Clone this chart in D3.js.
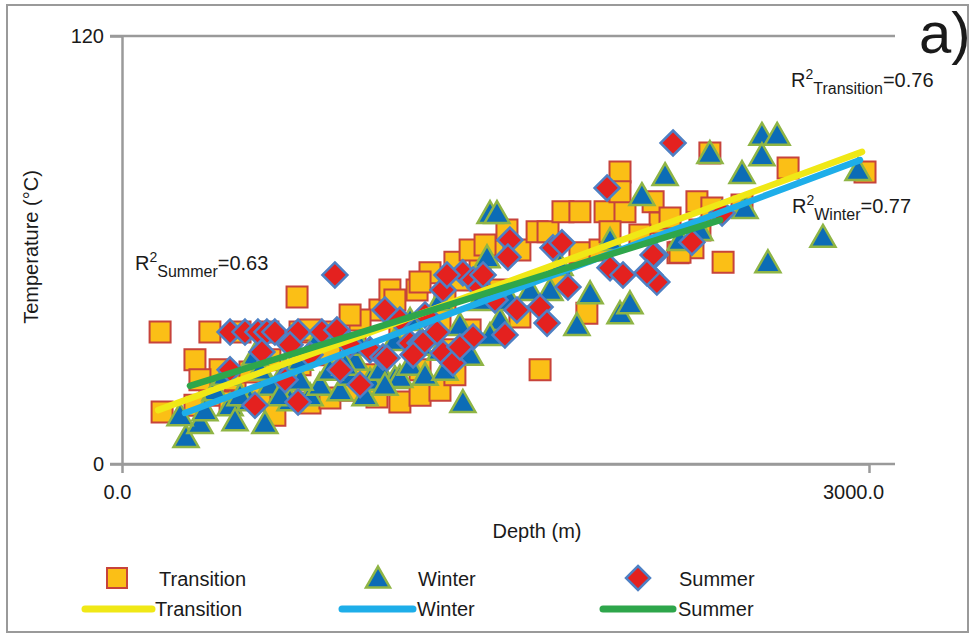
<!DOCTYPE html>
<html>
<head>
<meta charset="utf-8">
<script src="https://cdn.jsdelivr.net/npm/d3@7"></script>
<style>
  body { margin: 0; background: #fff; }
  text { font-family: "Liberation Sans", Arial, sans-serif; fill: #1a1a1a; }
</style>
</head>
<body>
<svg id="chart" width="976" height="639"></svg>
<script>
// Depth (m) / temperature (°C) observations by season
const transitionDepth = [153,161,353,474,586,715,835,703,394,454,514,353,434,554,655,755,835,916,1024,1116,594,715,835,936,1036,1116,1185,1237,1297,1357,1438,1490,1546,1598,1667,1711,1771,1839,1940,2020,2000,2000,2133,2309,2369,2361,2675,2984,2414,2233,2293,2161,2490,2241,1839,1679,1867,1598,1920,2080,1759,1398,1317,1197,1277,956,1076,755,293,313,1518,2201,2321,1960,976,1197,1337,1398,1458,1096,916,1197,1277,1337,614,293];
const transitionTemp  = [37.0,14.6,37.0,37.0,37.0,37.0,37.0,46.8,26.4,23.6,25.8,19.3,17.4,18.5,19.3,17.1,18.5,20.7,18.8,17.4,29.2,27.8,30.6,33.4,43.2,37.6,48.8,53.6,46.0,51.6,55.8,60.0,65.6,60.0,65.1,65.1,70.7,70.7,70.7,70.7,81.9,76.3,73.5,73.5,71.8,87.2,83.0,81.9,56.6,59.2,60.6,67.6,72.6,59.4,59.2,26.4,42.3,41.2,60.0,64.2,51.6,37.6,32.0,26.4,40.4,40.4,48.8,37.6,29.2,23.6,48.8,69.0,65.6,65.1,25.0,51.0,56.6,60.0,61.4,46.0,41.8,19.3,20.7,25.0,13.7,16.5];

const winterDepth = [257,313,574,434,514,675,755,795,876,916,996,1036,1096,1116,1157,594,373,474,655,715,835,936,1197,1277,1369,1466,1478,1506,1438,1518,1357,1827,1880,2000,2040,2088,2181,2361,2490,2502,2570,2631,2570,2815,2594,2956,1960,1759,1639,2321,333,233,534,795,1096,1277,1157,2241,414,554,635,896,976,1056,1217,1297,1398,1478,1558,715,454,956,1719];
const winterTemp  = [7.6,11.5,11.5,16.5,17.9,17.9,19.3,22.2,20.7,25.0,23.6,26.4,24.1,24.4,27.8,22.2,20.7,19.3,26.4,23.6,26.4,29.2,33.4,32.0,17.4,58.0,70.4,70.4,46.0,40.4,39.0,39.0,47.9,42.3,45.1,75.4,81.0,87.2,81.6,71.8,92.3,92.3,86.6,63.7,56.6,82.4,62.8,55.8,48.8,65.6,15.1,13.7,30.6,36.2,34.8,46.0,40.4,62.8,25.0,26.4,19.3,27.8,19.3,22.2,25.0,26.4,30.6,36.2,46.0,29.2,12.3,33.4,48.8];

const summerDepth = [434,494,546,582,614,707,803,863,1056,855,534,707,562,675,434,755,916,996,1157,1197,1048,1289,1329,1410,1357,1289,1369,1410,1438,1305,1450,1558,1550,1731,1767,1791,1948,1960,2012,2120,2148,2141,1586,1679,1707,1538,1265,1209,1169,1064,2213,2133,2289,2410,2108,876,956,655,1116,1217,1498];
const summerTemp  = [37.0,37.0,37.0,37.0,37.0,37.0,37.0,37.6,43.2,53.0,16.5,17.4,31.4,33.4,26.4,30.6,33.4,32.0,33.9,33.9,30.0,31.1,28.3,35.6,32.8,48.8,53.6,51.6,49.4,53.0,53.0,62.8,58.0,60.6,62.0,49.6,77.4,55.0,53.0,53.0,51.0,58.6,43.2,44.0,39.5,36.2,37.0,33.9,30.6,29.7,90.0,58.6,62.2,70.4,53.6,26.4,22.2,23.6,40.4,41.8,46.0];

// Linear fits: [depth, temperature] at each end of the fitted range
const transitionFit = [[145, 15.1], [2972, 87.5]];
const winterFit     = [[253, 14.3], [2964, 85.2]];
const summerFit     = [[273, 21.9], [2402, 68.4]];

const xTicks = [0, 3000];
const yTicks = [0, 120];
const seriesNames = ["Transition", "Winter", "Summer"];
const r2Values = ["0.76", "0.77", "0.63"];

const svg = d3.select("#chart");
const x = d3.scaleLinear().domain([0, 3000]).range([122, 869]);
const y = d3.scaleLinear().domain([0, 120]).range([464, 36]);

const axisGrey = "#9a9a9a";

// outer frame
svg.append("rect").attr("x", 7).attr("y", 5).attr("width", 961).attr("height", 627)
  .attr("fill", "none").attr("stroke", axisGrey).attr("stroke-width", 2);

// top rule and extended baseline
svg.append("line").attr("x1", 110).attr("x2", 895).attr("y1", y(120)).attr("y2", y(120))
  .attr("stroke", axisGrey).attr("stroke-width", 2.5);
svg.append("line").attr("x1", 110).attr("x2", 895).attr("y1", y(0)).attr("y2", y(0))
  .attr("stroke", axisGrey).attr("stroke-width", 2.5);

// y axis
const yAxis = svg.append("g").attr("transform", `translate(${x(0)},0)`)
  .call(d3.axisLeft(y).tickValues(yTicks).tickSize(12).tickSizeOuter(0).tickPadding(6).tickFormat(d3.format("d")));
yAxis.select(".domain").attr("stroke", axisGrey).attr("stroke-width", 2.5);
yAxis.selectAll(".tick line").attr("stroke", axisGrey).attr("stroke-width", 2.5);
yAxis.selectAll(".tick text").attr("font-size", 20).attr("fill", "#1a1a1a")
  .attr("font-family", "Liberation Sans, Arial, sans-serif");

// x axis
const xAxis = svg.append("g").attr("transform", `translate(0,${y(0)})`)
  .call(d3.axisBottom(x).tickValues(xTicks).tickSize(9).tickSizeOuter(0).tickPadding(12).tickFormat(d3.format(".1f")));
xAxis.select(".domain").attr("stroke", axisGrey).attr("stroke-width", 2.5);
xAxis.selectAll(".tick line").attr("stroke", axisGrey).attr("stroke-width", 2.5);
xAxis.selectAll(".tick text").attr("font-size", 20).attr("fill", "#1a1a1a")
  .attr("font-family", "Liberation Sans, Arial, sans-serif")
  .attr("dx", d => d === 0 ? -5 : -16);

// axis titles
svg.append("text").attr("x", 537).attr("y", 538).attr("text-anchor", "middle")
  .attr("font-size", 20).text("Depth (m)");
svg.append("text").attr("transform", "translate(38,247) rotate(-90)").attr("text-anchor", "middle")
  .attr("font-size", 20).text("Temperature (°C)");

// panel letter
svg.append("text").attr("x", 919).attr("y", 53).attr("font-size", 58).text("a)");

// marker shapes
const squareShape = { draw(ctx, s) { const h = s / 2; ctx.rect(-h, -h, s, s); } };
const triangleShape = { draw(ctx, s) { const h = s / 2; ctx.moveTo(0, -h * 0.95); ctx.lineTo(h, h * 0.8); ctx.lineTo(-h, h * 0.8); ctx.closePath(); } };
const diamondShape = { draw(ctx, s) { const h = s / 2; ctx.moveTo(0, -h); ctx.lineTo(h, 0); ctx.lineTo(0, h); ctx.lineTo(-h, 0); ctx.closePath(); } };

const series = [
  { name: "Transition", depth: transitionDepth, temp: transitionTemp, shape: squareShape, size: 21, fill: "#fbbf16", stroke: "#c7433b", sw: 2, line: "#f0e816", fit: transitionFit },
  { name: "Winter", depth: winterDepth, temp: winterTemp, shape: triangleShape, size: 25, fill: "#0c6cb6", stroke: "#8fb545", sw: 2.5, line: "#1eaee9", fit: winterFit },
  { name: "Summer", depth: summerDepth, temp: summerTemp, shape: diamondShape, size: 25, fill: "#e4211f", stroke: "#4e80c4", sw: 2.5, line: "#2ea64b", fit: summerFit }
];

series.forEach(s => {
  const pts = s.depth.map((d, i) => ({ d, t: s.temp[i] }));
  svg.append("g").selectAll("path").data(pts).join("path")
    .attr("d", d3.symbol().type(s.shape).size(s.size))
    .attr("transform", p => `translate(${x(p.d)},${y(p.t)})`)
    .attr("fill", s.fill).attr("stroke", s.stroke).attr("stroke-width", s.sw)
    .attr("stroke-linejoin", "miter");
});

const fitLine = d3.line().x(p => x(p[0])).y(p => y(p[1]));
series.forEach(s => {
  svg.append("path").attr("d", fitLine(s.fit)).attr("fill", "none")
    .attr("stroke", s.line).attr("stroke-width", 6.5).attr("stroke-linecap", "round");
});

// R² annotations
function r2Label(px, py, name, val) {
  const t = svg.append("text").attr("x", px).attr("y", py).attr("font-size", 20);
  t.append("tspan").text("R");
  t.append("tspan").attr("dy", -8).attr("font-size", 14).text("2");
  t.append("tspan").attr("dy", 15).attr("font-size", 16).text(name);
  t.append("tspan").attr("dy", -7).attr("font-size", 20).text("=" + val);
}
r2Label(791, 87, seriesNames[0], r2Values[0]);
r2Label(792, 213, seriesNames[1], r2Values[1]);
r2Label(135, 270, seriesNames[2], r2Values[2]);

// legend
const legendMarkerX = [117, 378, 638];
const legendLineX = [[85, 152], [342, 413], [603, 673]];
const legendTextX1 = [159, 418, 679];
const legendTextX2 = [155, 417, 678];
series.forEach((s, i) => {
  svg.append("path").attr("d", d3.symbol().type(s.shape).size(s.size - 1))
    .attr("transform", `translate(${legendMarkerX[i]},578)`)
    .attr("fill", s.fill).attr("stroke", s.stroke).attr("stroke-width", s.sw);
  svg.append("text").attr("x", legendTextX1[i]).attr("y", 586).attr("font-size", 20).text(s.name);
  svg.append("line").attr("x1", legendLineX[i][0]).attr("x2", legendLineX[i][1]).attr("y1", 609).attr("y2", 609)
    .attr("stroke", s.line).attr("stroke-width", 7).attr("stroke-linecap", "round");
  svg.append("text").attr("x", legendTextX2[i]).attr("y", 616).attr("font-size", 20).text(s.name);
});
</script>
</body>
</html>
